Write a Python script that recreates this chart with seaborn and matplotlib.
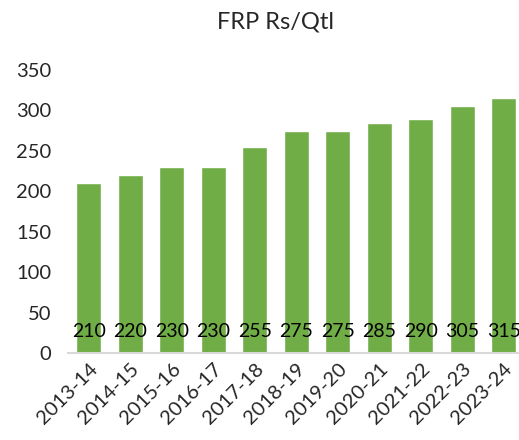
import matplotlib
matplotlib.use("Agg")
import matplotlib.pyplot as plt
import seaborn as sns
import pandas as pd

# ------------------------------------------------------------
# Données FRP (Rs/Qtl)
# ------------------------------------------------------------
seasons = ["2013-14", "2014-15", "2015-16", "2016-17", "2017-18", "2018-19",
           "2019-20", "2020-21", "2021-22", "2022-23", "2023-24"]
frp = [210, 220, 230, 230, 255, 275, 275, 285, 290, 305, 315]

df = pd.DataFrame({"Season": seasons, "FRP": frp})

sns.set_style("white")
plt.rcParams["font.family"] = ["Lato", "DejaVu Sans"]

fig = plt.figure(figsize=(5.19, 4.4), dpi=100)
ax = fig.add_axes([68 / 519, 87 / 440, 451 / 519, 283 / 440])

sns.barplot(data=df, x="Season", y="FRP", color="#70AD47", width=0.6,
            saturation=1, ax=ax)

for i, v in enumerate(frp):
    ax.text(i, 26, str(v), ha="center", va="center", fontsize=14, color="black")

ax.set_xlim(-0.5, 10.37)
ax.set_ylim(0, 350)
ax.set_yticks(range(0, 351, 50))
ax.set_xlabel("")
ax.set_ylabel("")
for s in ["top", "right", "left"]:
    ax.spines[s].set_visible(False)
ax.spines["bottom"].set_color("#D9D9D9")
ax.spines["bottom"].set_linewidth(1.5)
ax.tick_params(axis="both", length=0, labelsize=14.5)
ax.tick_params(axis="y", pad=12)
ax.tick_params(axis="x", pad=5)
plt.setp(ax.get_xticklabels(), rotation=45, ha="right", rotation_mode="anchor")

fig.text(0.53, 0.95, "FRP Rs/Qtl", ha="center", va="center", fontsize=17)

fig.savefig("out.png", dpi=100)
